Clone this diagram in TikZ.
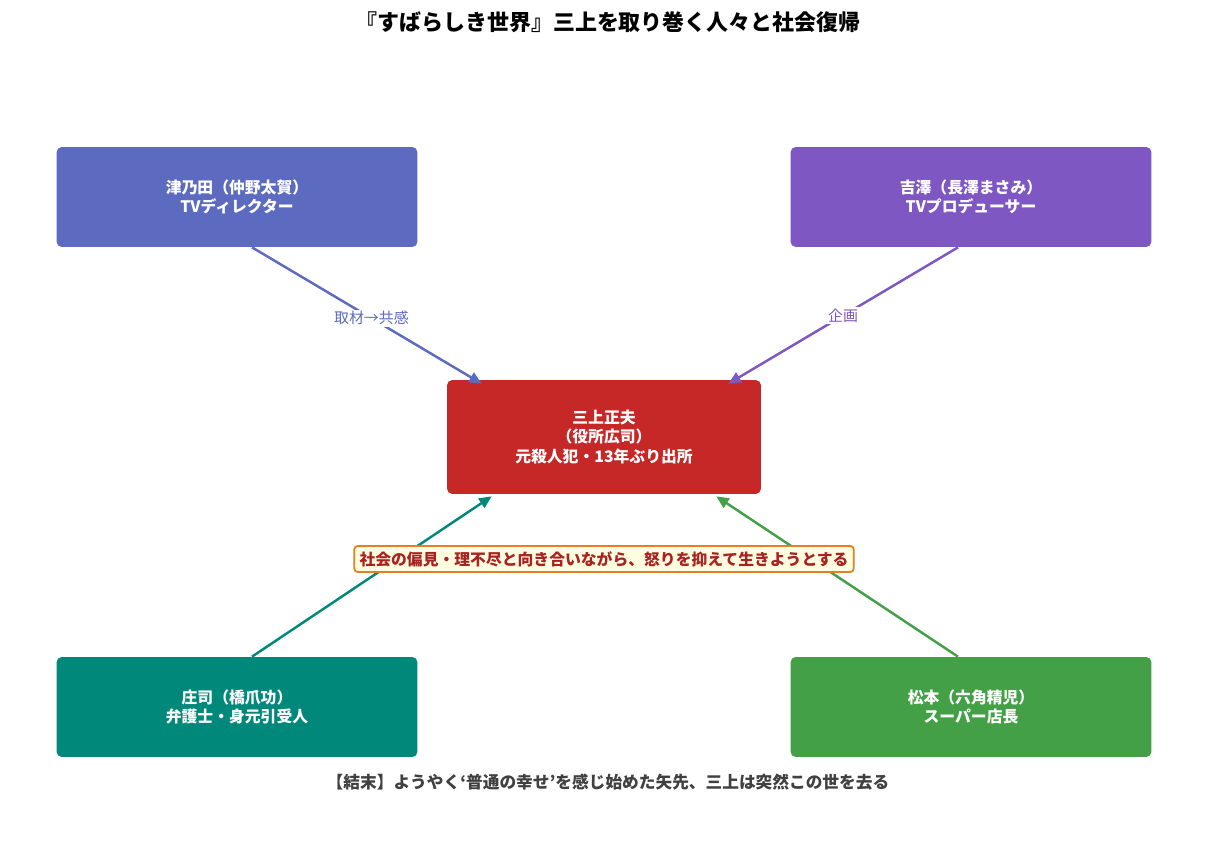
\documentclass[tikz,border=0pt]{standalone}
\usepackage{fontspec}
\setmainfont{Noto Sans CJK JP}
\usetikzlibrary{positioning, arrows.meta, calc}
\definecolor{dircolor}{HTML}{5C6BC0}
\definecolor{prodcolor}{HTML}{7E57C2}
\definecolor{maincolor}{HTML}{C62828}
\definecolor{lawcolor}{HTML}{00897B}
\definecolor{shopcolor}{HTML}{43A047}
\definecolor{notecolor}{HTML}{E67E22}

\begin{document}
\begin{tikzpicture}[
    x=0.02cm, y=-0.02cm,
    box/.style={rectangle, rounded corners=3pt, minimum width=7.22cm, minimum height=2cm, text=white, font=\fontsize{9}{11}\selectfont\bfseries, align=center},
    arrow/.style={-{Triangle[length=2.5mm, width=2.2mm]}, line width=1.4pt},
    lbl/.style={fill=white, inner sep=1pt, font=\fontsize{8.5}{10}\selectfont}
]
    \useasboundingbox (0,0) rectangle (1208,845);
    % Titre
    \node[font=\fontsize{12.5}{14}\selectfont\bfseries] (title) at (608,22) {『すばらしき世界』三上を取り巻く人々と社会復帰};

    % Personnages
    \node[box, fill=dircolor] (tsunoda) at (237,197) {津乃田（仲野太賀）\\TVディレクター};
    \node[box, fill=prodcolor] (yoshizawa) at (971,197) {吉澤（長澤まさみ）\\TVプロデューサー};
    \node[box, fill=maincolor, minimum width=6.28cm, minimum height=2.28cm] (mikami) at (604,437) {三上正夫\\（役所広司）\\元殺人犯・13年ぶり出所};
    \node[box, fill=lawcolor] (shoji) at (237,707) {庄司（橋爪功）\\弁護士・身元引受人};
    \node[box, fill=shopcolor] (matsumoto) at (971,707) {松本（六角精児）\\スーパー店長};

    % Flèches
    \draw[arrow, dircolor] ($(tsunoda.south)+(15,0)$) -- node[lbl, text=dircolor, pos=0.52] {取材→共感} ($(mikami.north west)+(35,4)$);
    \draw[arrow, prodcolor] ($(yoshizawa.south)+(-13,0)$) -- node[lbl, text=prodcolor, pos=0.5] {企画} ($(mikami.north east)+(-33,4)$);
    \draw[arrow, lawcolor] ($(shoji.north)+(15,0)$) -- ($(mikami.south west)+(45,2)$);
    \draw[arrow, shopcolor] ($(matsumoto.north)+(-13,0)$) -- ($(mikami.south east)+(-45,2)$);

    % Encadré
    \node[draw=notecolor, line width=1pt, fill=yellow!12, rounded corners=2pt, inner sep=3pt, text=maincolor!85!black, font=\fontsize{9}{11}\selectfont\bfseries] (note) at (604,559) {社会の偏見・理不尽と向き合いながら、怒りを抑えて生きようとする};

    % Résultat
    \node[text=black!75, font=\fontsize{9.5}{11}\selectfont\bfseries] (ending) at (608,782) {【結末】ようやく‘普通の幸せ’を感じ始めた矢先、三上は突然この世を去る};
\end{tikzpicture}
\end{document}
